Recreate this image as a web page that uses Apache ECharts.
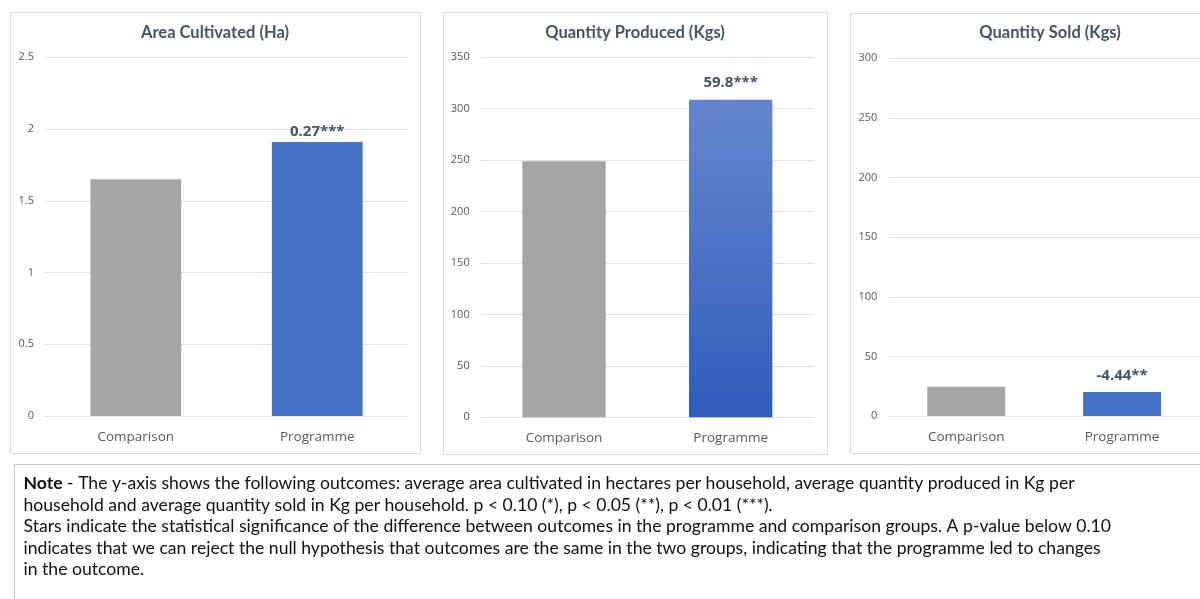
<!DOCTYPE html>
<html><head><meta charset="utf-8">
<script src="https://cdn.jsdelivr.net/npm/echarts@6/dist/echarts.min.js"></script>
<style>html,body{margin:0;padding:0;background:#fff}#c{width:1200px;height:599px}</style>
</head><body><div id="c"></div>
<script>
// ---- data ----
const categories = ['Comparison', 'Programme'];
const titles = ['Area Cultivated (Ha)', 'Quantity Produced (Kgs)', 'Quantity Sold (Kgs)'];
const areaCultivated = [1.65, 1.91];
const quantityProduced = [249, 308.8];
const quantitySold = [24.6, 20.2];
const differenceLabels = ['0.27***', '59.8***', '-4.44**'];
const yMax = [2.5, 350, 300];
const yInterval = [0.5, 50, 50];
const noteLines = [
  '{b|Note} - The y-axis shows the following outcomes: average area cultivated in hectares per household, average quantity produced in Kg per',
  'household and average quantity sold in Kg per household. p < 0.10 (*), p < 0.05 (**), p < 0.01 (***).',
  'Stars indicate the statistical significance of the difference between outcomes in the programme and comparison groups. A p-value below 0.10',
  'indicates that we can reject the null hypothesis that outcomes are the same in the two groups, indicating that the programme led to changes',
  'in the outcome.'
];

// ---- layout / style ----
const panels = [
  {x: 10, y: 12, w: 410, h: 441, grid: {left: 45, top: 57.3, width: 363, height: 358.7}, labelDist: 3},
  {x: 443, y: 12, w: 384, h: 442, grid: {left: 480.7, top: 57.3, width: 333.3, height: 360}, labelDist: 9},
  {x: 850, y: 13, w: 400, h: 440, grid: {left: 888.3, top: 58.3, width: 314, height: 357.7}, labelDist: 9}
];
const seriesValues = [areaCultivated, quantityProduced, quantitySold];
const GRAY = '#A5A5A5';
const BLUE = '#4472C4';
const gradBlue = new echarts.graphic.LinearGradient(0, 0, 0, 1, [
  {offset: 0, color: '#6586CD'}, {offset: 1, color: '#2D5EBA'}
]);
const GRIDC = '#dfe2e7';
const TITLEC = '#44546A';
const LABELC = '#595959';

// fit note font size to reference line width
const cv = document.createElement('canvas').getContext('2d');
cv.font = '16px Lato';
const refW = cv.measureText(noteLines[2]).width;
const noteSize = Math.round(16 * 1090 / refW * 10) / 10;

const chart = echarts.init(document.getElementById('c'), null, {renderer: 'canvas'});

const graphic = [];
panels.forEach((p, i) => {
  graphic.push({type: 'rect', shape: {x: p.x + 0.5, y: p.y + 0.5, width: p.w, height: p.h},
    style: {fill: 'none', stroke: '#d9dde3', lineWidth: 1}, silent: true, z: 0});
  graphic.push({type: 'text', x: p.x + p.w / 2, y: 33,
    style: {text: titles[i], fill: TITLEC, font: 'bold 16.5px Lato', align: 'center', verticalAlign: 'middle'}});
});
graphic.push({type: 'rect', shape: {x: 14.5, y: 464.5, width: 1200, height: 200},
  style: {fill: 'none', stroke: '#c8c8c8', lineWidth: 1}, silent: true});
const noteY = [483.3, 505, 526.7, 548.3, 569.6];
noteLines.forEach((t, i) => {
  graphic.push({type: 'text', x: 23.5, y: noteY[i],
    style: {text: t, fill: '#111', font: noteSize + 'px Lato', align: 'left', verticalAlign: 'middle',
      rich: {b: {fontWeight: 'bold', fontSize: noteSize, fontFamily: 'Lato', fill: '#111'}}}});
});

const option = {
  animation: false,
  backgroundColor: '#fff',
  grid: panels.map(p => Object.assign({containLabel: false}, p.grid)),
  xAxis: panels.map((p, i) => ({
    type: 'category', gridIndex: i, data: categories,
    axisLine: {lineStyle: {color: GRIDC}}, axisTick: {show: false},
    axisLabel: {color: LABELC, fontFamily: 'Open Sans', fontSize: 13.5, margin: 14}
  })),
  yAxis: panels.map((p, i) => ({
    type: 'value', gridIndex: i, min: 0, max: yMax[i], interval: yInterval[i],
    axisLine: {show: false}, axisTick: {show: false},
    splitLine: {lineStyle: {color: GRIDC}},
    axisLabel: {color: LABELC, fontFamily: 'Open Sans', fontSize: 11, margin: 11}
  })),
  series: seriesValues.map((vals, i) => ({
    type: 'bar', xAxisIndex: i, yAxisIndex: i, barWidth: '50%',
    data: vals.map((v, j) => j === 1 ? {
      value: v,
      itemStyle: {color: i === 1 ? gradBlue : BLUE},
      label: {show: true, position: 'top', distance: panels[i].labelDist, formatter: differenceLabels[i],
        color: TITLEC, fontFamily: 'Open Sans', fontWeight: 'bold', fontSize: 15}
    } : {value: v, itemStyle: {color: GRAY}})
  })),
  graphic: graphic
};
chart.setOption(option);
</script>
</body></html>
